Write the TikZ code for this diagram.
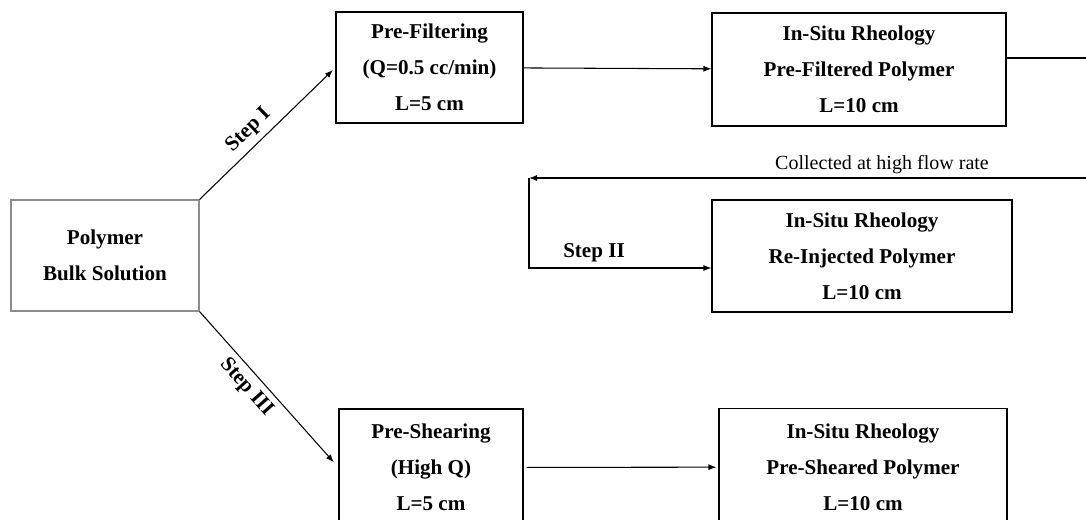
\documentclass[tikz,border=0pt]{standalone}
\usepackage{fontspec}
\setmainfont{Liberation Serif}
\usetikzlibrary{arrows.meta}

\begin{document}
\begin{tikzpicture}[>={Latex[length=1.6mm,width=1.2mm]}]

    % estilos
    \tikzstyle{caixa}=[rectangle, draw, line width=0.6pt, align=center, inner sep=2pt,
        font=\bfseries\fontsize{12}{20.5}\selectfont]
    \tikzstyle{rotulo}=[font=\bfseries\fontsize{12}{14}\selectfont]
    \tikzstyle{fluxo}=[->, line width=0.6pt]

    \useasboundingbox (0,0) rectangle (21.72,10.38);
    \clip (0,0) rectangle (21.72,10.38);

    % solução inicial
    \node[caixa, draw=black!45, minimum width=3.76cm, minimum height=2.22cm] (bulk) at (2.10,5.27)
        {Polymer\\Bulk Solution};

    % pré-tratamentos
    \node[caixa, minimum width=3.74cm, minimum height=2.22cm] (prefilt) at (8.59,9.03)
        {Pre-Filtering\\(Q=0.5 cc/min)\\L=5 cm};
    \node[caixa, minimum width=3.68cm, minimum height=2.34cm] (preshear) at (8.62,1.03)
        {Pre-Shearing\\(High Q)\\L=5 cm};

    % reologia in situ
    \node[caixa, minimum width=5.88cm, minimum height=2.26cm] (rheo1) at (17.18,8.99)
        {In-Situ Rheology\\Pre-Filtered Polymer\\L=10 cm};
    \node[caixa, minimum width=6.00cm, minimum height=2.24cm] (rheo2) at (17.24,5.26)
        {In-Situ Rheology\\Re-Injected Polymer\\L=10 cm};
    \node[caixa, minimum width=5.76cm, minimum height=2.34cm] (rheo3) at (17.26,1.04)
        {In-Situ Rheology\\Pre-Sheared Polymer\\L=10 cm};

    % ponto de retorno
    \coordinate (back) at (10.58,6.82);

    % etapas
    \draw[fluxo, shorten >=2pt] (bulk.north east) -- node[rotulo, sloped, above, pos=0.44] {Step I} (prefilt.west);
    \draw[fluxo, shorten >=0.14cm] (bulk.south east) -- node[rotulo, sloped, below, pos=0.42] {Step III} (preshear.west);
    \draw[fluxo] (prefilt) -- (rheo1);
    \draw[fluxo, shorten <=0.06cm, shorten >=0.04cm] (preshear) -- (rheo3);

    % recirculação
    \draw[fluxo] ([yshift=0.23cm]rheo1.east) -- ++(2.5,0) |- (back);
    \draw[fluxo] (back) |- ([yshift=-0.24cm]rheo2.west);

    % textos
    \node[font=\fontsize{11.4}{14}\selectfont, anchor=base] (coleta) at (17.64,7.00) {Collected at high flow rate};
    \node[rotulo, anchor=base] (passo2) at (11.88,5.24) {Step II};

\end{tikzpicture}
\end{document}
